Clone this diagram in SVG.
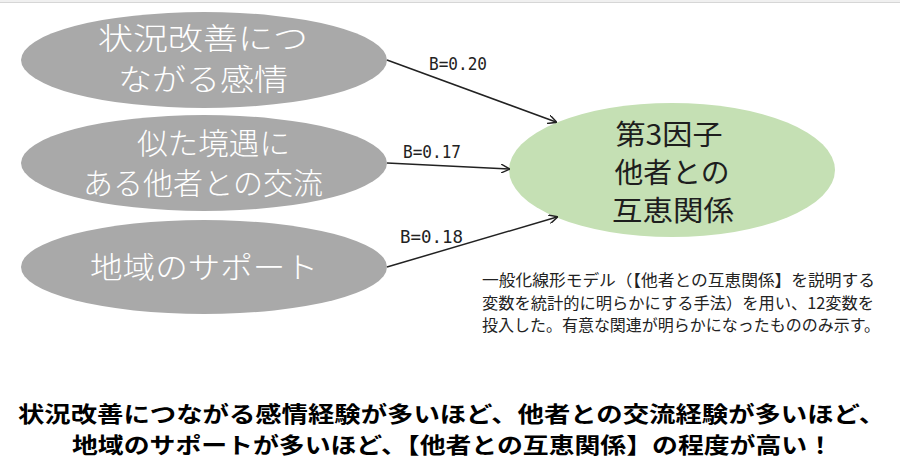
<svg xmlns="http://www.w3.org/2000/svg" width="900" height="473" viewBox="0 0 900 473">
  <defs>
    <style>
      .src { fill: #a9a9a9; }
      .tgt { fill: #c5e0b4; }
      .wt { font-family: "Noto Sans CJK JP", sans-serif; font-size: 30px; fill: #ffffff; font-weight: 300; }
      .bt { font-family: "Noto Sans CJK JP", sans-serif; font-size: 28px; fill: #1e1e1e; text-anchor: middle; }
      .note { font-family: "Noto Sans CJK JP", sans-serif; font-size: 16px; fill: #222222; }
      .sum { font-family: "Noto Sans CJK JP", sans-serif; font-size: 22px; fill: #000000; font-weight: 700; }
      .lab { font-family: "DejaVu Sans Mono", "Liberation Mono", monospace; font-size: 17px; fill: #222222; }
      .edge { stroke: #222222; stroke-width: 1.5; fill: none; marker-end: url(#arr); }
    </style>
    <marker id="arr" viewBox="0 0 10 10" refX="9" refY="5" markerWidth="9" markerHeight="9" markerUnits="userSpaceOnUse" orient="auto">
      <path d="M0,0 L10,5 L0,10" fill="none" stroke="#222222" stroke-width="1.6"/>
    </marker>
  </defs>
  <rect x="0" y="0" width="900" height="473" fill="#ffffff"/>
  <rect x="0" y="0" width="900" height="3" fill="#f0f0f0"/>
  <line x1="0" y1="2.5" x2="900" y2="2.5" stroke="#d6d6d6" stroke-width="1"/>

  <g id="node-feeling">
    <ellipse class="src" cx="204" cy="60" rx="183" ry="48"/>
    <text class="wt" x="98" y="49" textLength="210" lengthAdjust="spacingAndGlyphs">状況改善につ</text>
    <text class="wt" x="118" y="90" textLength="170" lengthAdjust="spacingAndGlyphs">ながる感情</text>
  </g>
  <g id="node-exchange">
    <ellipse class="src" cx="204" cy="163" rx="183" ry="48"/>
    <text class="wt" x="137" y="154" textLength="153" lengthAdjust="spacingAndGlyphs">似た境遇に</text>
    <text class="wt" x="83" y="194" textLength="240" lengthAdjust="spacingAndGlyphs">ある他者との交流</text>
  </g>
  <g id="node-support">
    <ellipse class="src" cx="204" cy="267" rx="183" ry="47"/>
    <text class="wt" x="90" y="278" textLength="228" lengthAdjust="spacingAndGlyphs">地域のサポート</text>
  </g>
  <g id="node-factor3">
    <ellipse class="tgt" cx="672" cy="170" rx="163" ry="67"/>
    <text class="bt" x="669" y="145" textLength="107" lengthAdjust="spacingAndGlyphs">第3因子</text>
    <text class="bt" x="672" y="183" textLength="115" lengthAdjust="spacingAndGlyphs">他者との</text>
    <text class="bt" x="673" y="221" textLength="122" lengthAdjust="spacingAndGlyphs">互恵関係</text>
  </g>

  <g id="connectors">
    <line class="edge" x1="387" y1="60" x2="556" y2="122"/>
    <line class="edge" x1="387" y1="163" x2="509" y2="169"/>
    <line class="edge" x1="387" y1="267" x2="557" y2="217"/>
    <text class="lab" x="429" y="70" textLength="58" lengthAdjust="spacingAndGlyphs">B=0.20</text>
    <text class="lab" x="403" y="158" textLength="58" lengthAdjust="spacingAndGlyphs">B=0.17</text>
    <text class="lab" x="400" y="243" textLength="63" lengthAdjust="spacingAndGlyphs">B=0.18</text>
  </g>

  <g id="note">
    <text class="note" x="482" y="286" textLength="393" lengthAdjust="spacingAndGlyphs">一般化線形モデル（【他者との互恵関係】を説明する</text>
    <text class="note" x="482" y="308.5" textLength="392" lengthAdjust="spacingAndGlyphs">変数を統計的に明らかにする手法）を用い、12変数を</text>
    <text class="note" x="482" y="331" textLength="398" lengthAdjust="spacingAndGlyphs">投入した。有意な関連が明らかになったもののみ示す。</text>
  </g>

  <g id="summary">
    <text class="sum" x="18" y="422" textLength="867" lengthAdjust="spacingAndGlyphs">状況改善につながる感情経験が多いほど、他者との交流経験が多いほど、</text>
    <text class="sum" x="72" y="453" textLength="761" lengthAdjust="spacingAndGlyphs">地域のサポートが多いほど、【他者との互恵関係】の程度が高い！</text>
  </g>
</svg>
